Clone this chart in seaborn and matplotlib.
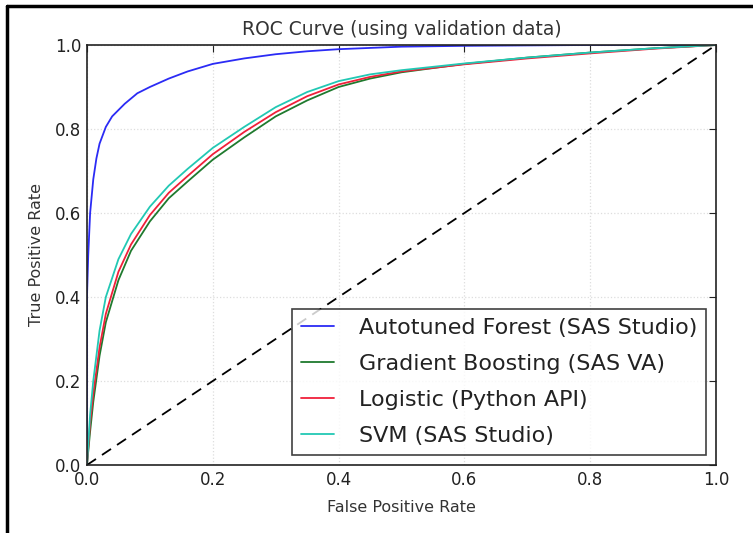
import matplotlib
matplotlib.use("Agg")
import matplotlib.pyplot as plt
import seaborn as sns
import pandas as pd
from matplotlib.lines import Line2D

models = ["Autotuned Forest (SAS Studio)", "Gradient Boosting (SAS VA)",
          "Logistic (Python API)", "SVM (SAS Studio)"]

fpr_forest = [0, 0, 0.002, 0.005, 0.01, 0.015, 0.02, 0.03, 0.04, 0.06, 0.08, 0.1, 0.13, 0.16, 0.2,
              0.25, 0.3, 0.35, 0.4, 0.5, 0.6, 0.8, 1.0]
tpr_forest = [0, 0.4, 0.5, 0.6, 0.68, 0.73, 0.765, 0.805, 0.83, 0.86, 0.885, 0.9, 0.92, 0.937, 0.955,
              0.968, 0.978, 0.985, 0.99, 0.996, 0.998, 1.0, 1.0]

fpr_common = [0, 0.005, 0.01, 0.02, 0.03, 0.05, 0.07, 0.1, 0.13, 0.16, 0.2, 0.25, 0.3, 0.35, 0.4,
              0.45, 0.5, 0.6, 0.7, 0.8, 0.9, 1.0]
tpr_gb = [0, 0.08, 0.15, 0.26, 0.34, 0.44, 0.51, 0.58, 0.635, 0.675, 0.727, 0.78, 0.83, 0.868, 0.9,
          0.92, 0.935, 0.955, 0.97, 0.982, 0.992, 1.0]
tpr_logit = [0, 0.1, 0.17, 0.28, 0.36, 0.46, 0.525, 0.595, 0.648, 0.688, 0.74, 0.793, 0.84, 0.878, 0.906,
             0.924, 0.937, 0.954, 0.968, 0.98, 0.991, 1.0]
tpr_svm = [0, 0.12, 0.2, 0.32, 0.4, 0.49, 0.55, 0.615, 0.665, 0.705, 0.755, 0.805, 0.852, 0.888, 0.914,
           0.93, 0.94, 0.956, 0.97, 0.982, 0.992, 1.0]

diag = [0, 1]

colors = ["#2b2bf5", "#1f7a2e", "#f0203a", "#22c8b4"]

rows = []
for name, xs, ys in [(models[0], fpr_forest, tpr_forest), (models[1], fpr_common, tpr_gb),
                     (models[2], fpr_common, tpr_logit), (models[3], fpr_common, tpr_svm)]:
    for x, y in zip(xs, ys):
        rows.append({"model": name, "fpr": x, "tpr": y})
df = pd.DataFrame(rows)

sns.set_style("white")
plt.rcParams['font.family'] = ['DejaVu Sans']

fig = plt.figure(figsize=(7.53, 5.33), dpi=100)
ax = fig.add_axes([0.1155, 0.1276, 0.951 - 0.1155, 0.9156 - 0.1276])

sns.lineplot(data=df, x="fpr", y="tpr", hue="model", palette=dict(zip(models, colors)),
             estimator=None, sort=False, units="model", linewidth=1.3, ax=ax, legend=False)
ax.plot(diag, diag, "k--", linewidth=1.3, dashes=(6, 4))

ax.set_xlim(0, 1)
ax.set_ylim(0, 1)
ax.set_xticks([0, 0.2, 0.4, 0.6, 0.8, 1.0])
ax.set_yticks([0, 0.2, 0.4, 0.6, 0.8, 1.0])
ax.set_xticklabels(["0.0", "0.2", "0.4", "0.6", "0.8", "1.0"])
ax.set_yticklabels(["0.0", "0.2", "0.4", "0.6", "0.8", "1.0"])
ax.tick_params(direction="in", length=5, width=0.8, top=True, right=True, labelsize=12, colors="#222222", pad=4)
ax.grid(True, color="#dddddd", linestyle=":", linewidth=0.9)
for s in ax.spines.values():
    s.set_color("#222222")
    s.set_linewidth(1.2)

ax.set_title("ROC Curve (using validation data)", fontsize=13.5, color="#333333", pad=7)
ax.set_xlabel("False Positive Rate", fontsize=11.5, color="#333333", labelpad=8)
ax.set_ylabel("True Positive Rate", fontsize=11.5, color="#333333", labelpad=8)

handles = [Line2D([0], [0], color=c, linewidth=1.3) for c in colors]
leg = ax.legend(handles, models, loc="lower right", fontsize=16, frameon=True, fancybox=False,
                handlelength=1.5, handletextpad=1.1, borderpad=0.4, labelspacing=0.72,
                borderaxespad=0.45)
leg.get_frame().set_edgecolor("#111111")
leg.get_frame().set_linewidth(1.2)
for t in leg.get_texts():
    t.set_color("#222222")

# figure border (top and left)
fig.add_artist(Line2D([7/753, 1.0], [1 - 6/533, 1 - 6/533], transform=fig.transFigure, color="black", linewidth=2.5))
fig.add_artist(Line2D([7/753, 7/753], [0, 1 - 6/533], transform=fig.transFigure, color="black", linewidth=2.5))

fig.savefig("out.png", dpi=100)
